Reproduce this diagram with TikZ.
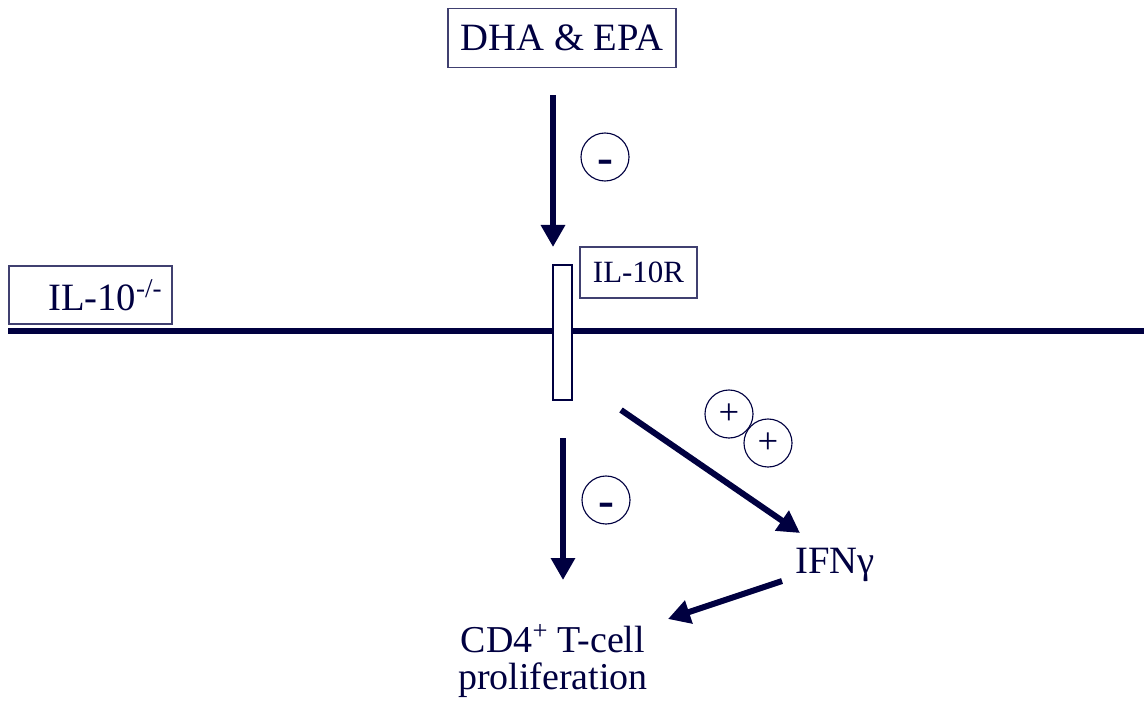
\documentclass[tikz,border=0pt]{standalone}
\usepackage{fontspec}
\setmainfont{Liberation Serif}
\usetikzlibrary{arrows.meta,positioning}
\definecolor{navy}{RGB}{0,0,64}
\tikzset{
  lbl/.style={text=navy, inner sep=0pt, font=\fontsize{27.5}{27.5}\selectfont},
  boxlbl/.style={lbl, draw=navy!75, line width=0.9pt},
  sign/.style={circle, draw=navy, line width=0.8pt, minimum size=1.2cm, inner sep=0pt, text=navy},
  flow/.style={navy, line width=0.15cm, -{Triangle[length=0.55cm, width=0.58cm]}},
}
\newcommand{\minussign}{\smash{\raisebox{-0.42cm}{\fontsize{34}{34}\bfseries -}}}
\begin{document}
\begin{tikzpicture}[x=0.025cm, y=-0.025cm]
    \useasboundingbox (0,0) rectangle (1144,710);
    %%Khung
    \node[boxlbl, minimum width=5.7cm, minimum height=1.475cm] (dha) at (562,38) {DHA \& EPA};
    \node[boxlbl, minimum width=4.075cm, minimum height=1.45cm, font=\fontsize{27.5}{27.5}\selectfont] (il10) at (90.5,295) {\hspace*{0.74cm}IL-10\textsuperscript{-/-}};
    \node[boxlbl, minimum width=2.925cm, minimum height=1.275cm, font=\fontsize{22}{22}\selectfont] (il10r) at (638.5,272.5) {IL-10R};
    %%Mang te bao
    \coordinate (memL) at (8,331);
    \coordinate (memR) at (1144,331);
    \draw[navy, line width=0.15cm] (memL) -- (memR);
    \node[draw=navy, line width=0.8pt, fill=white, minimum width=0.475cm, minimum height=3.375cm, inner sep=0pt] (rec) at (562.5,332.5) {};
    %%Cac chu
    \node[lbl] (ifn) at (835,565) {IFNγ};
    \node[lbl, align=center, font=\fontsize{27}{26.5}\selectfont] (cd4) at (553,661) {CD4\textsuperscript{+} T-cell\\proliferation};
    %%Mui ten
    \coordinate (a1s) at (553,95);
    \coordinate (a1e) at (553,247);
    \coordinate (a2s) at (563,438);
    \coordinate (a2e) at (563,580);
    \coordinate (a3s) at (621,410);
    \coordinate (a3e) at (800,533);
    \coordinate (a4s) at (782,581);
    \coordinate (a4e) at (668,619);
    \draw[flow] (a1s) -- (a1e);
    \draw[flow] (a2s) -- (a2e);
    \draw[flow] (a3s) -- (a3e);
    \draw[flow] (a4s) -- (a4e);
    %%Dau
    \node[sign] (m1) at (605,157) {\minussign};
    \node[sign] (m2) at (606,500) {\minussign};
    \node[sign, font=\fontsize{26}{26}\selectfont] (p1) at (729,414) {+};
    \node[sign, font=\fontsize{26}{26}\selectfont] (p2) at (768,443) {+};
\end{tikzpicture}
\end{document}
